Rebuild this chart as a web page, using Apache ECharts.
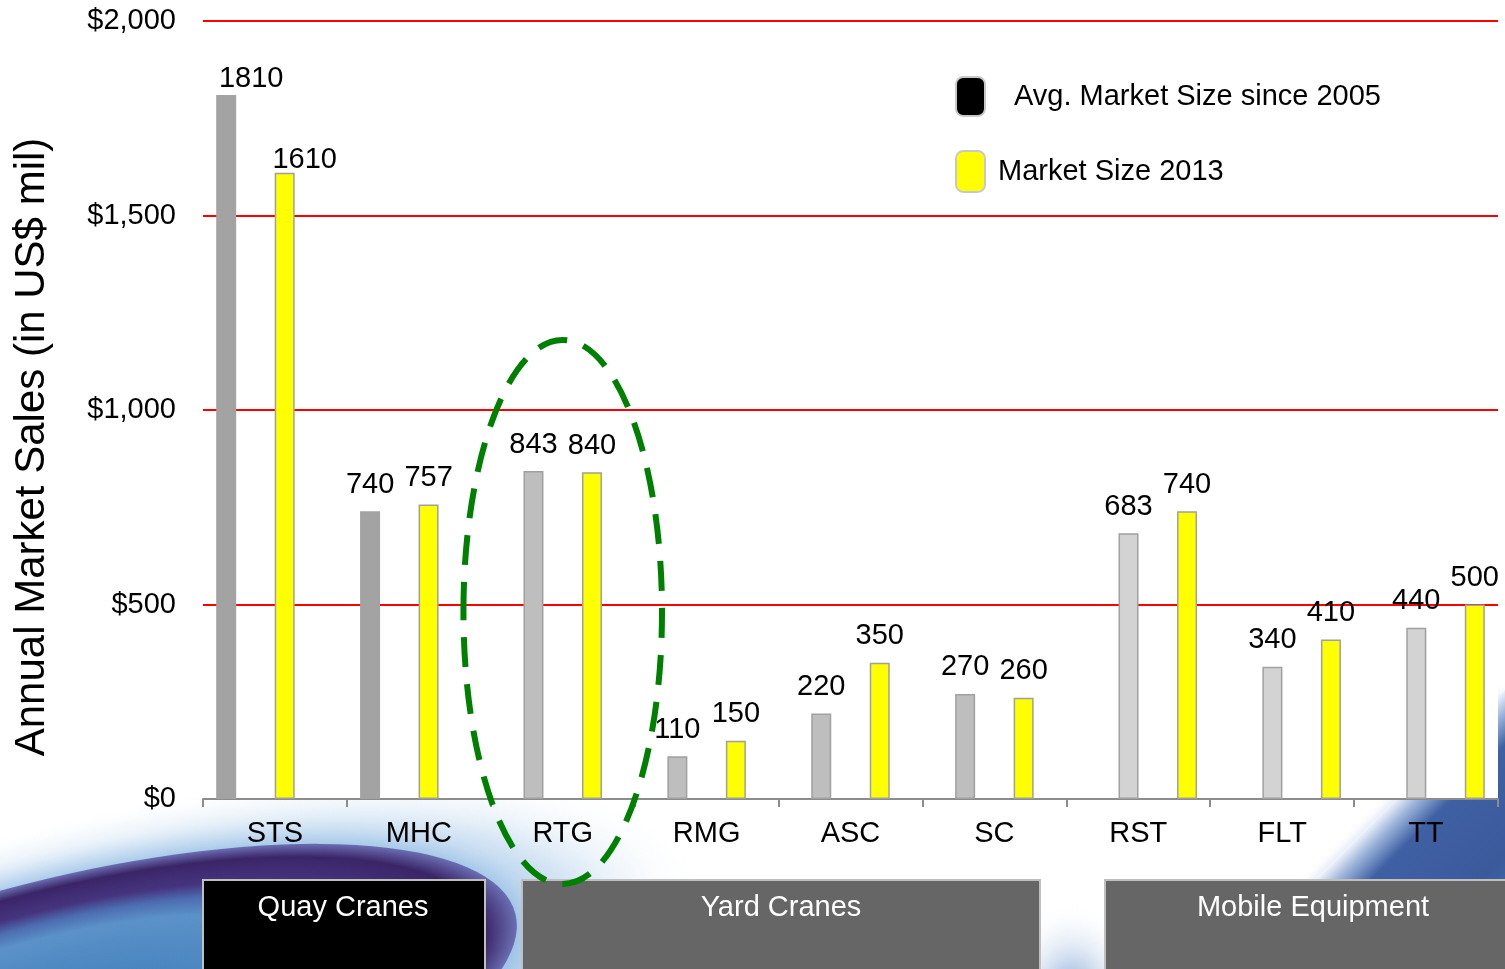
<!DOCTYPE html>
<html><head><meta charset="utf-8">
<script src="https://cdn.jsdelivr.net/npm/echarts@6/dist/echarts.min.js"></script>
<style>html,body{margin:0;padding:0;background:#fff}#chart{width:1505px;height:969px}</style>
</head><body><div id="chart"></div>
<script>
// ---- data ----
const categories = ['STS', 'MHC', 'RTG', 'RMG', 'ASC', 'SC', 'RST', 'FLT', 'TT'];
const avgMarketSize = [1810, 740, 843, 110, 220, 270, 683, 340, 440];
const marketSize2013 = [1610, 757, 840, 150, 350, 260, 740, 410, 500];
const categoryGroup = ['Quay Cranes', 'Quay Cranes', 'Yard Cranes', 'Yard Cranes', 'Yard Cranes', 'Yard Cranes',
  'Mobile Equipment', 'Mobile Equipment', 'Mobile Equipment'];
const groupNames = ['Quay Cranes', 'Yard Cranes', 'Mobile Equipment'];
const seriesNames = ['Avg. Market Size since 2005', 'Market Size 2013'];
const yAxisTitle = 'Annual Market Sales (in US$ mil)';
const highlightedCategory = 'RTG';

// ---- styles ----
const FONT = '"Liberation Sans", Arial, sans-serif';
const FS = 29;
const greyShades = ['#a3a3a3', '#a3a3a3', '#bebebe', '#bebebe', '#bebebe', '#bebebe', '#d3d3d3', '#d3d3d3', '#d3d3d3'];
const greyBorders = ['#a3a3a3', '#a3a3a3', '#a0a0a0', '#a0a0a0', '#a0a0a0', '#a0a0a0', '#a0a0a0', '#a0a0a0', '#a0a0a0'];
const labelOffsets = { 0: { grey: [25, 11], yellow: [20, 14] } };

function buildSeries(values, kind) {
  return groupNames.map(function (g) {
    return {
      type: 'bar',
      name: kind === 'grey' ? seriesNames[0] : seriesNames[1],
      barWidth: 20,
      barGap: '-2.5%',
      itemStyle: kind === 'grey' ? { color: '#bebebe' } : { color: '#ffff00', borderColor: '#a0a0a0', borderWidth: 1.5 },
      label: { show: true, position: 'top', distance: 12, fontSize: FS, fontFamily: FONT, color: '#000' },
      data: values.map(function (v, i) {
        if (categoryGroup[i] !== g) return null;
        const item = { value: v };
        if (kind === 'grey') item.itemStyle = { color: greyShades[i], borderColor: greyBorders[i], borderWidth: 1.5 };
        if (labelOffsets[i]) item.label = { offset: labelOffsets[i][kind] };
        return item;
      })
    };
  });
}

const chart = echarts.init(document.getElementById('chart'), null, { renderer: 'canvas' });

const option = {
  backgroundColor: '#ffffff',
  animation: false,
  grid: { left: 203, right: 7, top: 21, bottom: 170, containLabel: false, show: true, backgroundColor: '#ffffff', borderWidth: 0 },
  legend: [
    {
      left: 955, top: 76, padding: 0, itemWidth: 29, itemHeight: 39, icon: 'roundRect', selectedMode: false,
      data: [{ name: seriesNames[0], itemStyle: { color: '#000000', borderColor: '#c8c8c8', borderWidth: 2 } }],
      textStyle: { fontSize: FS, fontFamily: FONT, color: '#000', padding: [0, 0, 0, 24] }
    },
    {
      left: 955, top: 150, padding: 0, itemWidth: 29, itemHeight: 41, icon: 'roundRect', selectedMode: false,
      data: [{ name: seriesNames[1], itemStyle: { color: '#ffff00', borderColor: '#c8c8c8', borderWidth: 2 } }],
      textStyle: { fontSize: FS, fontFamily: FONT, color: '#000', padding: [0, 0, 0, 8] }
    }
  ],
  xAxis: {
    type: 'category',
    data: categories,
    axisLine: { lineStyle: { color: '#8c8c8c', width: 2 } },
    axisTick: { show: true, length: 8, lineStyle: { color: '#8c8c8c', width: 2 } },
    axisLabel: { fontSize: FS, fontFamily: FONT, color: '#000', margin: 20 }
  },
  yAxis: {
    type: 'value', min: 0, max: 2000, interval: 500,
    name: yAxisTitle, nameLocation: 'middle', nameGap: 150,
    nameTextStyle: { fontSize: 42, fontFamily: FONT, color: '#000', padding: [0, 74, 0, 0] },
    axisLine: { show: false }, axisTick: { show: false },
    axisLabel: {
      fontSize: FS, fontFamily: FONT, color: '#000', margin: 27,
      formatter: function (v) { return '$' + v.toLocaleString('en-US'); }
    },
    splitLine: { lineStyle: { color: '#ff0000', width: 2 } }
  },
  series: buildSeries(avgMarketSize, 'grey').concat(buildSeries(marketSize2013, 'yellow'))
};

chart.setOption(option);

// ---- decorations (background swoosh, group boxes, highlight ellipse) ----
const gx = function (i) { return chart.convertToPixel({ xAxisIndex: 0 }, categories[i]); };
const catW = gx(1) - gx(0);
const hi = categories.indexOf(highlightedCategory);
const ellCx = gx(hi);
const ellTop = chart.convertToPixel({ yAxisIndex: 0 }, 1180);
const ellBottom = 884;

const boxes = [
  { name: groupNames[0], x: 203, w: 282, fill: '#000000', tx: 343 },
  { name: groupNames[1], x: 522, w: 518, fill: '#666666', tx: 781 },
  { name: groupNames[2], x: 1105, w: 420, fill: '#666666', tx: 1313 }
];

const swoosh = { x: 60, y: 1030, rx: 470, ry: 150, rot: 0.25 };
const elements = [
  { // outer pale glow of the swoosh
    type: 'circle', z: -12, x: swoosh.x + 30, y: swoosh.y + 5, rotation: swoosh.rot,
    scaleX: swoosh.rx * 1.35 / 100, scaleY: swoosh.ry * 1.45 / 100,
    shape: { cx: 0, cy: 0, r: 100 },
    style: {
      fill: {
        type: 'radial', x: 0.5, y: 0.5, r: 0.5,
        colorStops: [
          { offset: 0, color: 'rgba(120,165,215,1)' }, { offset: 0.66, color: 'rgba(150,190,228,0.95)' },
          { offset: 0.8, color: 'rgba(195,218,240,0.7)' }, { offset: 1, color: 'rgba(255,255,255,0)' }
        ]
      }
    }
  },
  { // dark ring swoosh
    type: 'circle', z: -10, x: swoosh.x, y: swoosh.y, rotation: swoosh.rot,
    scaleX: swoosh.rx / 100, scaleY: swoosh.ry / 100,
    shape: { cx: 0, cy: 0, r: 100 },
    style: {
      fill: {
        type: 'radial', x: 0.5, y: 0.5, r: 0.5,
        colorStops: [
          { offset: 0, color: '#3b78b8' }, { offset: 0.62, color: '#5a92c8' },
          { offset: 0.72, color: '#4d6cb0' }, { offset: 0.8, color: '#45347e' },
          { offset: 0.93, color: '#3b2568' }, { offset: 1, color: '#6a6fb2' }
        ]
      },
      shadowBlur: 22, shadowColor: 'rgba(150,190,230,0.9)'
    }
  },
  { // soft haze between the yard and mobile boxes
    type: 'circle', z: -11, x: 1072, y: 1000, scaleX: 1, scaleY: 1.4,
    shape: { cx: 0, cy: 0, r: 70 },
    style: {
      fill: {
        type: 'radial', x: 0.5, y: 0.5, r: 0.5,
        colorStops: [{ offset: 0, color: 'rgba(90,140,200,0.9)' }, { offset: 1, color: 'rgba(255,255,255,0)' }]
      }
    }
  },
  { // blue corner at the right
    type: 'polygon', z: -10,
    shape: { points: [[1225, 969], [1505, 690], [1505, 969]] },
    style: {
      fill: {
        type: 'linear', x: 0, y: 0, x2: 1, y2: 1,
        colorStops: [
          { offset: 0.5, color: '#f2f5fb' }, { offset: 0.54, color: '#9fb6dc' },
          { offset: 0.6, color: '#3f60a3' }, { offset: 0.8, color: '#3a5a9c' }, { offset: 1, color: '#4a82bd' }
        ]
      },
      shadowBlur: 12, shadowColor: 'rgba(200,215,240,0.8)'
    }
  },
  {
    type: 'ellipse', z: 100,
    shape: { cx: ellCx, cy: (ellTop + ellBottom) / 2, rx: catW * 0.69, ry: (ellBottom - ellTop) / 2 },
    style: { fill: 'none', stroke: '#008000', lineWidth: 6, lineDash: [30, 17] }
  }
];
boxes.forEach(function (b) {
  elements.push({
    type: 'rect', z: 50, shape: { x: b.x, y: 880, width: b.w, height: 100 },
    style: { fill: b.fill, stroke: '#bfbfbf', lineWidth: 2 }
  });
  elements.push({
    type: 'text', z: 51, x: b.tx, y: 908,
    style: { text: b.name, fill: '#ffffff', font: FS + 'px ' + FONT, align: 'center', verticalAlign: 'middle' }
  });
});

chart.setOption({ graphic: { elements: elements } });
</script>
</body></html>
